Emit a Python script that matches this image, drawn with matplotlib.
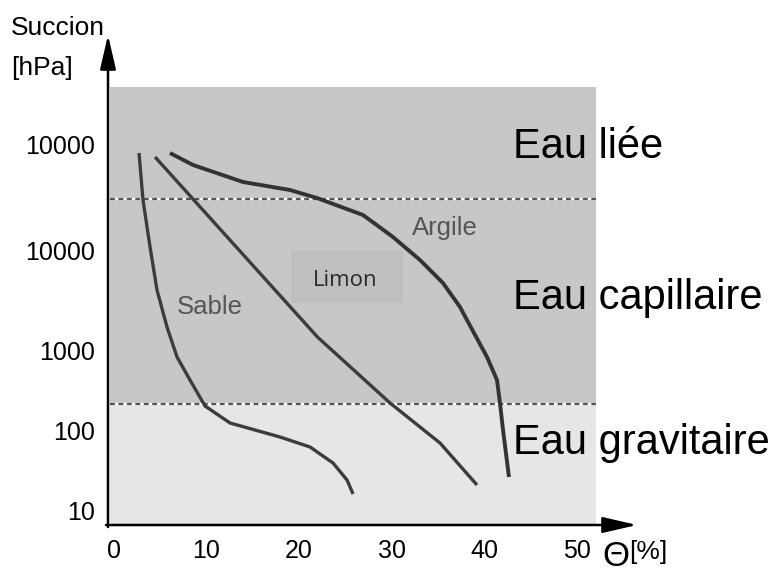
import matplotlib
matplotlib.use("Agg")
import matplotlib.pyplot as plt
from matplotlib.patches import Rectangle

# ---------------- data (schematic axes) ----------------
x_ticks = [0, 10, 20, 30, 40, 50]
x_ticklabels = ["0", "10", "20", "30", "40", "50"]
y_ticks = [0.15, 0.95, 1.75, 2.75, 3.80]
y_ticklabels = ["10", "100", "1000", "10000", "10000"]

zone_bounds = [0.0, 1.21, 3.26, 4.38]
zone_names = ["Eau gravitaire", "Eau capillaire", "Eau liée"]

sable_x = [2.75, 3.18, 3.94, 4.69, 5.77, 6.85, 8.25, 9.87, 12.57, 17.96, 21.20, 23.68, 25.19, 25.84]
sable_y = [3.72, 3.25, 2.78, 2.35, 1.98, 1.68, 1.45, 1.19, 1.02, 0.88, 0.78, 0.62, 0.45, 0.31]

limon_x = [4.48, 22.0, 29.83, 35.22, 39.21]
limon_y = [3.68, 1.88, 1.22, 0.82, 0.40]

argile_x = [6.09, 8.58, 13.97, 19.04, 21.95, 26.91, 30.15, 33.06, 35.54, 37.38, 38.13, 40.29, 41.37, 41.69, 42.02, 42.66]
argile_y = [3.72, 3.60, 3.43, 3.35, 3.27, 3.10, 2.88, 2.65, 2.42, 2.18, 2.05, 1.68, 1.45, 1.22, 0.95, 0.48]

plt.rcParams["font.family"] = ["Liberation Sans", "DejaVu Sans"]

fig = plt.figure(figsize=(7.84, 5.74), dpi=100)
ax = fig.add_axes([110 / 784, 49 / 574, 486 / 784, 438 / 574])
ax.set_xlim(-0.38, 52.05)
ax.set_ylim(0, 4.38)
for s in ax.spines.values():
    s.set_visible(False)
ax.set_facecolor("none")

# zones
ax.axhspan(zone_bounds[0], zone_bounds[1], color="#e6e6e6", lw=0, zorder=0)
ax.axhspan(zone_bounds[1], zone_bounds[3], color="#c7c7c7", lw=0, zorder=0)
for b in zone_bounds[1:3]:
    ax.axhline(b, color="white", lw=1.6, zorder=1)
    ax.axhline(b, color="#555555", lw=1.6, ls=(0, (2.2, 1.6)), zorder=1)

# Limon box
ax.add_patch(Rectangle((19.15, 2.22), 12.1, 0.52, color="#bfbfbf", lw=0, zorder=1))

# curves
ax.plot(sable_x, sable_y, color="#3c3c3c", lw=2.4, solid_capstyle="butt", solid_joinstyle="round", zorder=3)
ax.plot(limon_x, limon_y, color="#3c3c3c", lw=2.4, solid_capstyle="butt", solid_joinstyle="round", zorder=3)
ax.plot(argile_x, argile_y, color="#333333", lw=2.8, solid_capstyle="butt", solid_joinstyle="round", zorder=3)

# curve labels
ax.text(35.76, 2.97, "Argile", color="#555555", fontsize=18.5, ha="center", va="center", zorder=4)
ax.text(10.41, 2.18, "Sable", color="#555555", fontsize=18.5, ha="center", va="center", zorder=4)
ax.text(25.0, 2.44, "Limon", color="#2a2a2a", fontsize=16, ha="center", va="center",
        family=["Open Sans", "DejaVu Sans"], zorder=4)

# zone labels
zone_y = [0.82, 2.27, 3.78]
for name, yy in zip(zone_names, zone_y):
    ax.text(43.1, yy, name, color="black", fontsize=30, ha="left", va="center", clip_on=False, zorder=4)

# ticks
ax.set_xticks(x_ticks)
ax.set_xticklabels(x_ticklabels, fontsize=18)
ax.set_yticks(y_ticks)
ax.set_yticklabels(y_ticklabels, fontsize=18)
ax.tick_params(axis="both", length=0)
ax.tick_params(axis="x", pad=10)
ax.tick_params(axis="y", pad=11)

# axis arrows (figure pixels)
astyle = "-|>,head_length=0.95,head_width=0.22"
ax.annotate("", xy=(108, 539), xytext=(108, 47), xycoords="figure pixels", textcoords="figure pixels",
            arrowprops=dict(arrowstyle=astyle, color="black", lw=1.8,
                            mutation_scale=22, shrinkA=0, shrinkB=0))
ax.annotate("", xy=(637, 49), xytext=(106, 49), xycoords="figure pixels", textcoords="figure pixels",
            arrowprops=dict(arrowstyle=astyle, color="black", lw=1.8,
                            mutation_scale=22, shrinkA=0, shrinkB=0))

# axis titles
fig.text(11 / 784, 1 - 28 / 574, "Succion", fontsize=19, ha="left", va="center")
fig.text(11 / 784, 1 - 68 / 574, "[hPa]", fontsize=19, ha="left", va="center")
fig.text(602 / 784, 1 - 556 / 574, "Θ", fontsize=25, ha="left", va="center")
fig.text(629 / 784, 1 - 552 / 574, "[%]", fontsize=19, ha="left", va="center")

fig.savefig("out.png", dpi=100)
